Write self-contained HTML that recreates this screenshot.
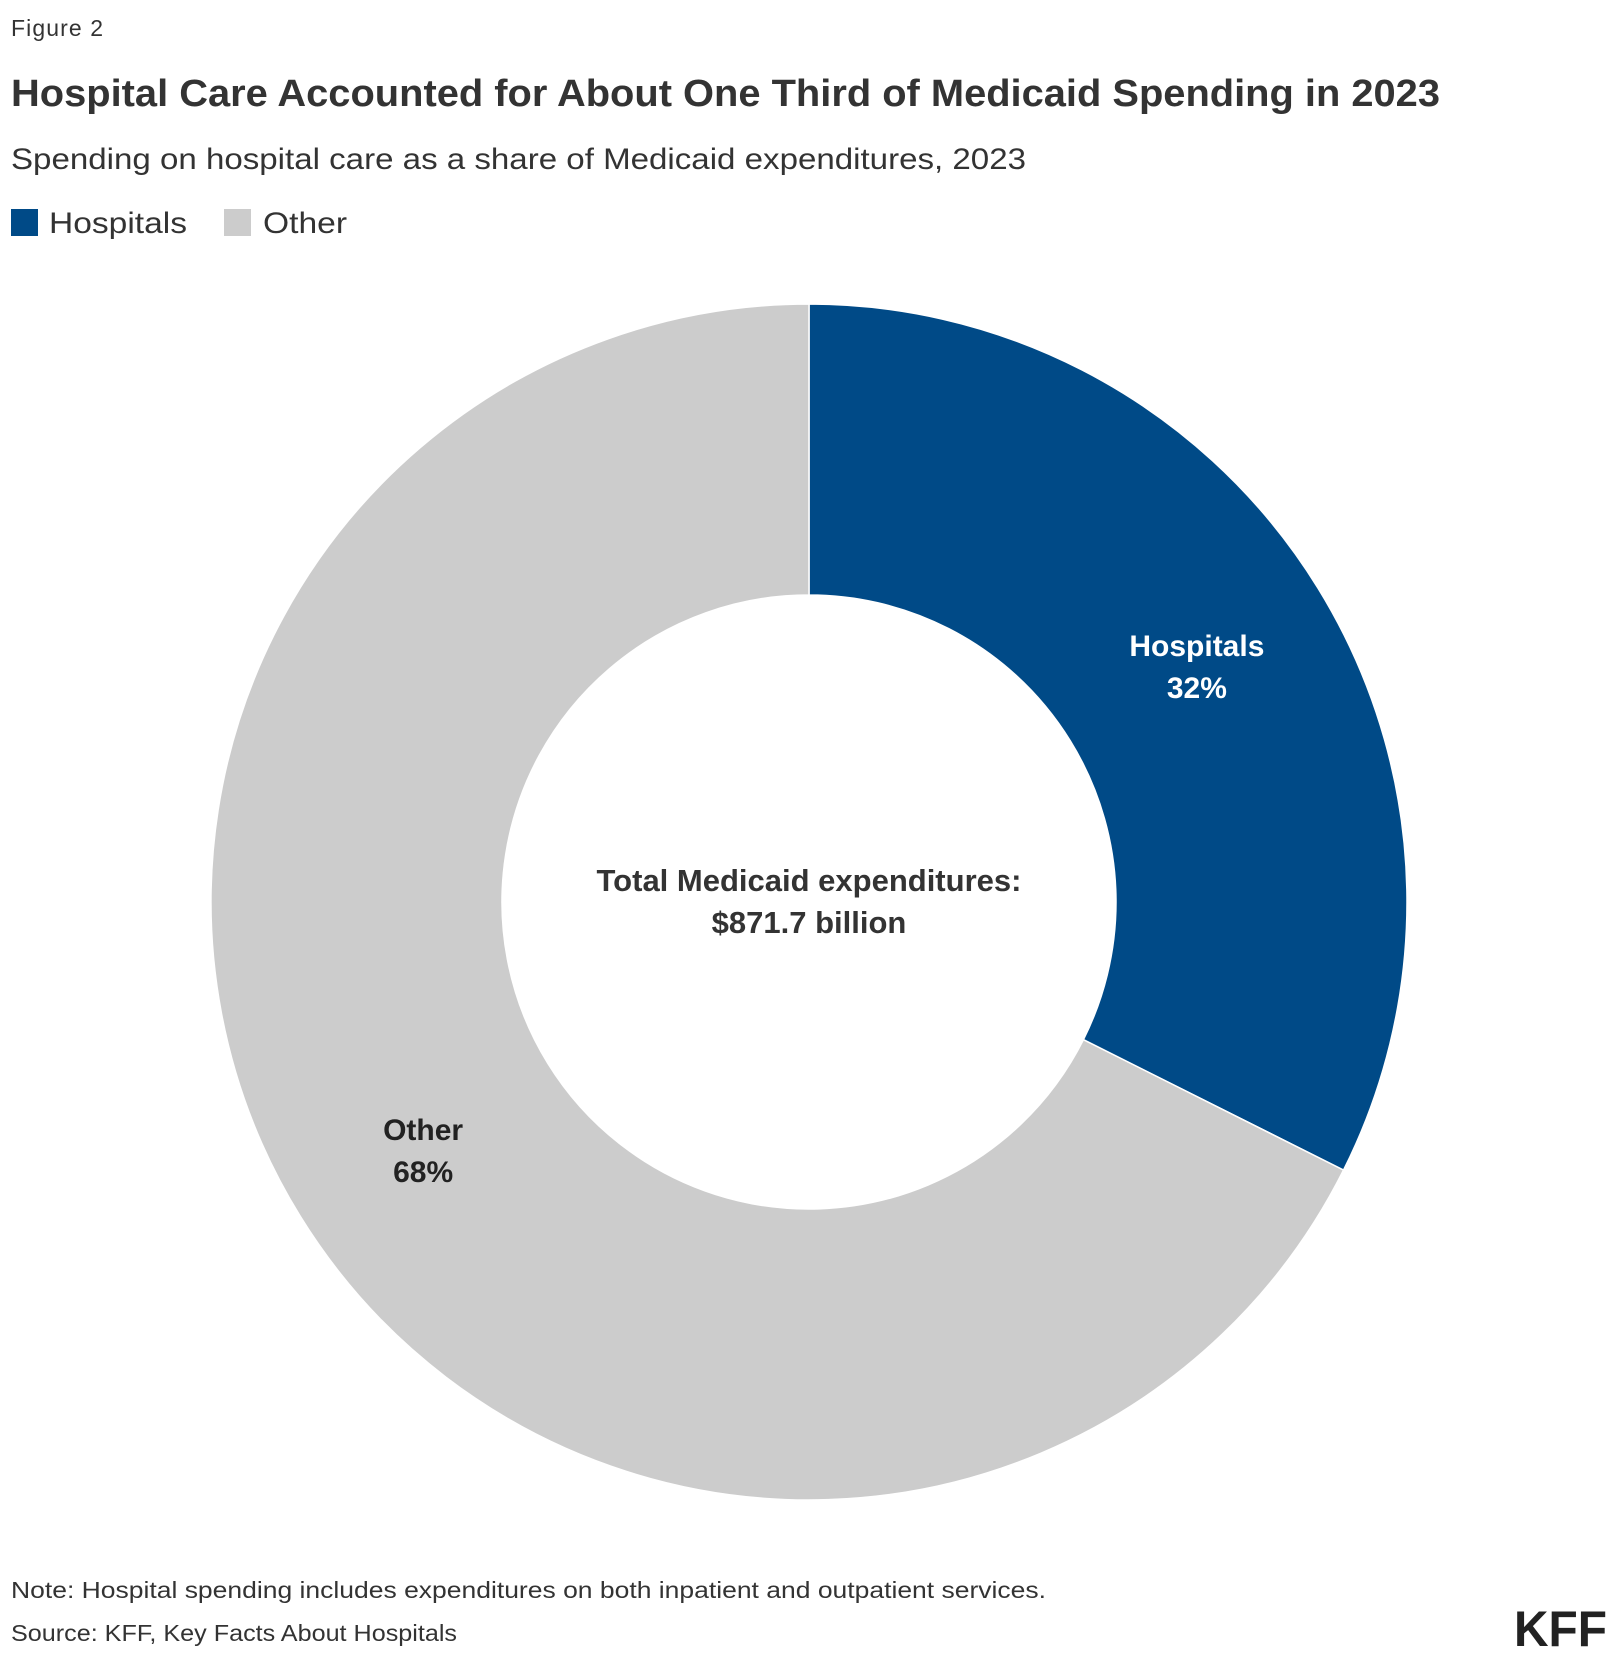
<!DOCTYPE html>
<html><head><meta charset="utf-8"><style>
body{margin:0;background:#fff}
svg{display:block;font-family:"Liberation Sans",sans-serif}
</style></head><body>
<svg id="chart" width="1620" height="1662" viewBox="0 0 1620 1662">
<text x="11" y="36" font-size="23" fill="#333" textLength="92">Figure 2</text>
<text x="11" y="106" font-size="38" font-weight="bold" fill="#333" textLength="1429" lengthAdjust="spacingAndGlyphs">Hospital Care Accounted for About One Third of Medicaid Spending in 2023</text>
<text x="11" y="169" font-size="30" fill="#333" textLength="1015" lengthAdjust="spacingAndGlyphs">Spending on hospital care as a share of Medicaid expenditures, 2023</text>
<g>
<rect x="11" y="209" width="27" height="27" fill="#004A87"/>
<text x="49" y="233" font-size="30" fill="#333" textLength="138" lengthAdjust="spacingAndGlyphs">Hospitals</text>
<rect x="224" y="209" width="27" height="27" fill="#CCCCCC"/>
<text x="263" y="233" font-size="30" fill="#333" textLength="84" lengthAdjust="spacingAndGlyphs">Other</text>
</g>
<g id="donut"></g>
<text x="809" y="891" text-anchor="middle" font-size="31" font-weight="bold" fill="#333">Total Medicaid expenditures:</text>
<text x="809" y="933" text-anchor="middle" font-size="31" font-weight="bold" fill="#333">$871.7 billion</text>
<text x="11" y="1598" font-size="23" fill="#333" textLength="1035" lengthAdjust="spacingAndGlyphs">Note: Hospital spending includes expenditures on both inpatient and outpatient services.</text>
<text x="11" y="1641" font-size="23" fill="#333" textLength="446" lengthAdjust="spacingAndGlyphs">Source: KFF, Key Facts About Hospitals</text>
<text x="1607" y="1646" text-anchor="end" font-size="50" font-weight="bold" fill="#222" textLength="93" lengthAdjust="spacingAndGlyphs">KFF</text>
</svg>
<script>
const categories = ["Hospitals", "Other"];
const values = [32.4, 67.6];
const valueLabels = ["32%", "68%"];
const colors = ["#004A87", "#CCCCCC"];
const labelColors = ["#fff", "#222"];
const cx = 809, cy = 902, R = 598, r = 307;
const ns = "http://www.w3.org/2000/svg";
const g = document.getElementById("donut");
const total = values.reduce((a, b) => a + b, 0);
function pt(a, rad) { return [cx + rad * Math.sin(a), cy - rad * Math.cos(a)]; }
let start = 0;
values.forEach((v, i) => {
  const end = start + v / total * 2 * Math.PI;
  const large = end - start > Math.PI ? 1 : 0;
  const [x1, y1] = pt(start, R), [x2, y2] = pt(end, R), [x3, y3] = pt(end, r), [x4, y4] = pt(start, r);
  const p = document.createElementNS(ns, "path");
  p.setAttribute("d", `M${x1},${y1} A${R},${R} 0 ${large} 1 ${x2},${y2} L${x3},${y3} A${r},${r} 0 ${large} 0 ${x4},${y4} Z`);
  p.setAttribute("fill", colors[i]);
  p.setAttribute("stroke", "#fff");
  p.setAttribute("stroke-width", "1.5");
  
  
  g.appendChild(p);
  const mid = (start + end) / 2;
  const [lx, ly] = pt(mid, (R + r) / 2 + 8);
  [categories[i], valueLabels[i]].forEach((s, j) => {
    const t = document.createElementNS(ns, "text");
    t.setAttribute("x", lx + (i === 1 ? 6 : -4));
    t.setAttribute("y", ly - 4 + j * 42);
    t.setAttribute("text-anchor", "middle");
    t.setAttribute("font-size", "30");
    t.setAttribute("font-weight", "bold");
    t.setAttribute("fill", labelColors[i]);
    t.textContent = s;
    
    
    g.appendChild(t);
  });
  start = end;
});
</script>
</body></html>
